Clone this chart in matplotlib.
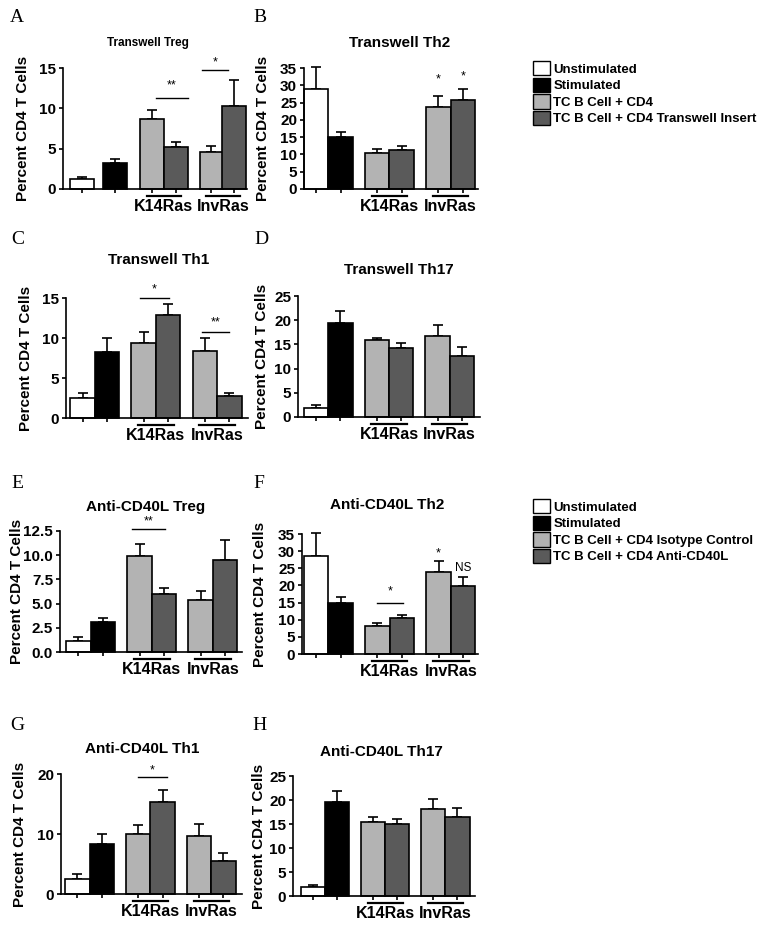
import numpy as np
import matplotlib.pyplot as plt
from matplotlib.patches import Patch

W, H = 769, 933

plt.rcParams['font.family'] = ['Liberation Sans', 'DejaVu Sans']
plt.rcParams['font.weight'] = 'bold'

# Daten (Mittelwerte und obere Fehlerbalken), Reihenfolge:
# Unstimulated, Stimulated, K14Ras (CD4, Insert/Anti), InvRas (CD4, Insert/Anti)
groups = ["K14Ras", "InvRas"]
legend_transwell = ["Unstimulated", "Stimulated", "TC B Cell + CD4",
                    "TC B Cell + CD4 Transwell Insert"]
legend_cd40l = ["Unstimulated", "Stimulated", "TC B Cell + CD4 Isotype Control",
                "TC B Cell + CD4 Anti-CD40L"]

tw_treg = [1.24, 3.19, 8.7, 5.22, 4.56, 10.24]
tw_treg_err = [0.29, 0.54, 1.04, 0.58, 0.83, 3.31]
tw_th2 = [28.9, 15.1, 10.5, 11.3, 23.7, 25.6]
tw_th2_err = [6.3, 1.3, 1.1, 1.0, 3.3, 3.4]
tw_th1 = [2.54, 8.25, 9.38, 12.9, 8.33, 2.7]
tw_th1_err = [0.63, 1.79, 1.42, 1.4, 1.63, 0.47]
tw_th17 = [1.93, 19.5, 15.9, 14.3, 16.8, 12.6]
tw_th17_err = [0.47, 2.4, 0.5, 0.9, 2.3, 1.8]

cd40_treg = [1.1, 3.1, 9.94, 5.97, 5.39, 9.5]
cd40_treg_err = [0.42, 0.46, 1.18, 0.69, 0.93, 2.07]
cd40_th2 = [28.7, 14.8, 8.3, 10.6, 23.8, 19.7]
cd40_th2_err = [6.6, 1.7, 0.8, 0.8, 3.2, 2.7]
cd40_th1 = [2.5, 8.33, 10.0, 15.28, 9.72, 5.56]
cd40_th1_err = [0.83, 1.73, 1.56, 2.0, 1.95, 1.22]
cd40_th17 = [1.8, 19.5, 15.4, 15.1, 18.1, 16.4]
cd40_th17_err = [0.5, 2.4, 1.1, 0.9, 2.1, 1.9]

colors = ["white", "black", "#b3b3b3", "#5a5a5a", "#b3b3b3", "#5a5a5a"]

pos_std = [0, 0.8, 2.0, 2.8, 4.0, 4.8]
pos_a = [0, 1.1, 2.35, 3.15, 4.35, 5.12]

# Paneldefinitionen: Buchstabe, Titel, Werte, Fehler, y-Achse, Box in Pixeln (l, o, r, u)
panels = [
    dict(letter="A", lpos=(17, 18), title="Transwell Treg", tpos=(148, 43), tsize=8.5,
         vals=tw_treg, errs=tw_treg_err, ymax=15, ystep=5, box=(63, 68, 247, 189),
         pos=pos_a, xlim=(-0.65, 5.55), yl=-33,
         lines=[(2.5, 3.55, 11.3, "**", 12.8), (4.05, 4.9, 14.7, "*", 15.7)], stars=[]),
    dict(letter="B", lpos=(260, 18), title="Transwell Th2", tpos=(400, 43), tsize=11,
         vals=tw_th2, errs=tw_th2_err, ymax=35, ystep=5, box=(304, 68, 478, 189),
         pos=pos_std, xlim=(-0.4, 5.3), yl=-34,
         lines=[], stars=[(4.0, 31.6, "*"), (4.8, 32.6, "*")]),
    dict(letter="C", lpos=(18, 240), title="Transwell Th1", tpos=(159, 260), tsize=11,
         vals=tw_th1, errs=tw_th1_err, ymax=15, ystep=5, box=(66, 298, 248, 418),
         pos=pos_std, xlim=(-0.54, 5.41), yl=-33,
         lines=[(1.88, 2.83, 15.0, "*", 16.1), (3.9, 4.78, 10.7, "**", 11.9)], stars=[]),
    dict(letter="D", lpos=(261, 240), title="Transwell Th17", tpos=(399, 270), tsize=11,
         vals=tw_th17, errs=tw_th17_err, ymax=25, ystep=5, box=(298, 296, 480, 417),
         pos=pos_std, xlim=(-0.6, 5.4), yl=-29, lines=[], stars=[]),
    dict(letter="E", lpos=(17, 483), title="Anti-CD40L Treg", tpos=(146, 507), tsize=11,
         vals=cd40_treg, errs=cd40_treg_err, ymax=12.5, ystep=2.5, box=(60, 531, 242, 652),
         pos=pos_std, xlim=(-0.6, 5.35), yl=-36,
         lines=[(1.75, 2.84, 12.67, "**", 13.5)], stars=[]),
    dict(letter="F", lpos=(259, 483), title="Anti-CD40L Th2", tpos=(387, 505), tsize=11,
         vals=cd40_th2, errs=cd40_th2_err, ymax=35, ystep=5, box=(302, 534, 478, 654),
         pos=pos_std, xlim=(-0.46, 5.29), yl=-35,
         lines=[(2.0, 2.85, 15.0, "*", 18.3)], stars=[(4.0, 29.4, "*")]),
    dict(letter="G", lpos=(17, 725), title="Anti-CD40L Th1", tpos=(142, 749), tsize=11,
         vals=cd40_th1, errs=cd40_th1_err, ymax=20, ystep=10, box=(61, 774, 242, 894),
         pos=pos_std, xlim=(-0.54, 5.41), yl=-34,
         lines=[(2.0, 2.94, 19.5, "*", 20.6)], stars=[]),
    dict(letter="H", lpos=(260, 725), title="Anti-CD40L Th17", tpos=(381, 752), tsize=11,
         vals=cd40_th17, errs=cd40_th17_err, ymax=25, ystep=5, box=(293, 776, 475, 896),
         pos=pos_std, xlim=(-0.65, 5.38), yl=-27, lines=[], stars=[]),
]

fig = plt.figure(figsize=(W / 100, H / 100), dpi=100)

for p in panels:
    l, t, r, b = p["box"]
    wpx, hpx = r - l, b - t
    ax = fig.add_axes([l / W, 1 - b / H, wpx / W, hpx / H])
    pos = p["pos"]

    eb = ax.errorbar(pos, p["vals"], yerr=[np.zeros(len(pos)), p["errs"]], fmt="none",
                     ecolor="black", elinewidth=1.2, capsize=3.6, capthick=1.2, zorder=1)
    for art in list(eb.lines[1]) + list(eb.lines[2]):
        art.set_clip_on(False)
    ax.bar(pos, p["vals"], width=0.8, color=colors, edgecolor="black", linewidth=1.2,
           zorder=2, clip_on=False)

    ax.set_xlim(p["xlim"])
    ax.set_ylim(0, p["ymax"])
    ticks = np.arange(0, p["ymax"] + 0.01, p["ystep"])
    ax.set_yticks(ticks)
    if p["ystep"] < 5:
        ax.set_yticklabels([f"{v:.1f}" for v in ticks])
    ax.set_xticks(pos)
    ax.set_xticklabels([])
    ax.tick_params(axis="both", direction="out", length=3, width=1.2, labelsize=11, pad=2)
    for s in ["top", "right"]:
        ax.spines[s].set_visible(False)
    for s in ["left", "bottom"]:
        ax.spines[s].set_linewidth(1.2)

    ax.set_ylabel("Percent CD4 T Cells", fontsize=11, fontweight="bold")
    ax.yaxis.set_label_coords(p["yl"] / wpx, 0.5)

    # Gruppenbalken unter der Achse
    trans = ax.get_xaxis_transform()
    centers = [(pos[2] + pos[3]) / 2, (pos[4] + pos[5]) / 2]
    for c, name in zip(centers, groups):
        ax.plot([c - 0.58, c + 0.58], [-7 / hpx] * 2, transform=trans, color="black",
                lw=1.6, clip_on=False)
        ax.text(c, -10 / hpx, name, transform=trans, ha="center", va="top",
                fontsize=11.5, fontweight="bold")

    # Signifikanzen
    for x1, x2, y, txt, ys in p["lines"]:
        ax.plot([x1, x2], [y, y], color="black", lw=1, clip_on=False)
        ax.text((x1 + x2) / 2, ys, txt, ha="center", va="center", fontsize=9,
                fontweight="normal")
    for x, y, txt in p["stars"]:
        ax.text(x, y, txt, ha="center", va="center", fontsize=9, fontweight="normal")

    fig.text(p["tpos"][0] / W, 1 - p["tpos"][1] / H, p["title"], ha="center", va="center",
             fontsize=p["tsize"], fontweight="bold")
    fig.text(p["lpos"][0] / W, 1 - p["lpos"][1] / H, p["letter"], ha="center", va="center",
             family=["Liberation Serif", "DejaVu Serif"], fontsize=14, fontweight="normal")

    if p["letter"] == "F":
        ax.text(pos[5], 25, "NS", ha="center", va="center", fontsize=8.5, fontweight="normal")

# Legenden
for labels, top in [(legend_transwell, 61), (legend_cd40l, 499)]:
    handles = [Patch(facecolor=c, edgecolor="black", lw=1) for c in colors[:4]]
    fig.legend(handles, labels, loc="upper left", bbox_to_anchor=(533 / W, 1 - top / H),
               frameon=False, prop={"weight": "bold", "size": 9.5}, handlelength=1.3,
               handleheight=1.3, handletextpad=0.25, labelspacing=0.15, borderpad=0,
               borderaxespad=0)

fig.savefig("out.png", dpi=100)
